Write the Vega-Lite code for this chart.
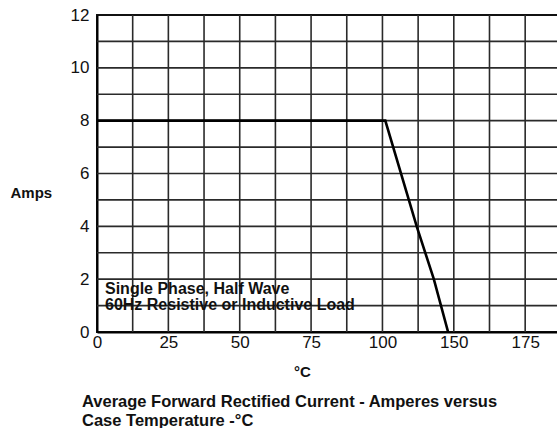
{
  "$schema": "https://vega.github.io/schema/vega-lite/v6.json",
  "width": 461,
  "height": 317,
  "autosize": {"type": "none"},
  "padding": {"left": 97, "top": 15, "right": 0, "bottom": 96},
  "background": "white",
  "config": {
    "font": "Liberation Sans",
    "view": {"stroke": "#111", "strokeWidth": 2}
  },
  "title": {
    "text": ["Average Forward Rectified Current  -  Amperes versus", "Case Temperature  -°C"],
    "orient": "bottom",
    "anchor": "start",
    "frame": "group",
    "dx": -15,
    "offset": 15,
    "fontSize": 16.5,
    "fontWeight": "bold",
    "color": "#111",
    "lineHeight": 19
  },
  "datasets": {
    "curve": [
      {"temp": 0, "amps": 8},
      {"temp": 101, "amps": 8},
      {"temp": 112, "amps": 4},
      {"temp": 118, "amps": 2},
      {"temp": 123, "amps": 0}
    ],
    "xgrid": [
      {"temp": 12.5}, {"temp": 25}, {"temp": 37.5}, {"temp": 50}, {"temp": 62.5}, {"temp": 75},
      {"temp": 87.5}, {"temp": 100}, {"temp": 112.5}, {"temp": 125}, {"temp": 137.5}, {"temp": 150}
    ],
    "ygrid": [
      {"amps": 1}, {"amps": 2}, {"amps": 3}, {"amps": 4}, {"amps": 5}, {"amps": 6},
      {"amps": 7}, {"amps": 8}, {"amps": 9}, {"amps": 10}, {"amps": 11}
    ],
    "notes": [
      {"temp": 2.8, "amps": 1.63, "note": "Single Phase, Half Wave"},
      {"temp": 2.8, "amps": 1.02, "note": "60Hz Resistive or Inductive Load"}
    ]
  },
  "layer": [
    {
      "data": {"name": "xgrid"},
      "mark": {"type": "rule", "color": "#2a2a2a", "strokeWidth": 1.6},
      "encoding": {
        "x": {
          "field": "temp",
          "type": "quantitative",
          "scale": {"domain": [0, 161.5], "nice": false, "zero": false},
          "axis": {
            "values": [0, 25, 50, 75, 100, 125, 150],
            "labelExpr": "datum.value == 125 ? '150' : (datum.value == 150 ? '175' : datum.label)",
            "grid": false,
            "ticks": false,
            "tickSize": 0,
            "domainColor": "#000",
            "domainWidth": 2,
            "labelFontSize": 17,
            "labelColor": "#111",
            "labelPadding": 2,
            "labelFlush": false,
            "labelOverlap": false,
            "title": "°C",
            "titleFontSize": 15,
            "titleFontWeight": "bold",
            "titleColor": "#111",
            "titleX": 205,
            "titleY": 32,
            "titleAlign": "center",
            "titleBaseline": "top"
          }
        }
      }
    },
    {
      "data": {"name": "ygrid"},
      "mark": {"type": "rule", "color": "#2a2a2a", "strokeWidth": 1.6},
      "encoding": {
        "y": {
          "field": "amps",
          "type": "quantitative",
          "scale": {"domain": [0, 12], "nice": false},
          "axis": {
            "values": [0, 2, 4, 6, 8, 10, 12],
            "grid": false,
            "ticks": false,
            "tickSize": 0,
            "domainColor": "#000",
            "domainWidth": 2,
            "labelFontSize": 17,
            "labelColor": "#111",
            "labelPadding": 8,
            "labelFlush": false,
            "labelOverlap": false,
            "title": "Amps",
            "titleFontSize": 15,
            "titleFontWeight": "bold",
            "titleColor": "#111",
            "titleAngle": 0,
            "titleAlign": "left",
            "titleBaseline": "middle",
            "titleX": -87,
            "titleY": 177
          }
        }
      }
    },
    {
      "data": {"name": "curve"},
      "mark": {"type": "line", "color": "#000", "strokeWidth": 2.6, "clip": true},
      "encoding": {
        "x": {"field": "temp", "type": "quantitative"},
        "y": {"field": "amps", "type": "quantitative"}
      }
    },
    {
      "data": {"name": "notes"},
      "mark": {"type": "text", "align": "left", "baseline": "middle", "fontSize": 16, "fontWeight": "bold", "color": "#111"},
      "encoding": {
        "x": {"field": "temp", "type": "quantitative"},
        "y": {"field": "amps", "type": "quantitative"},
        "text": {"field": "note"}
      }
    }
  ]
}
